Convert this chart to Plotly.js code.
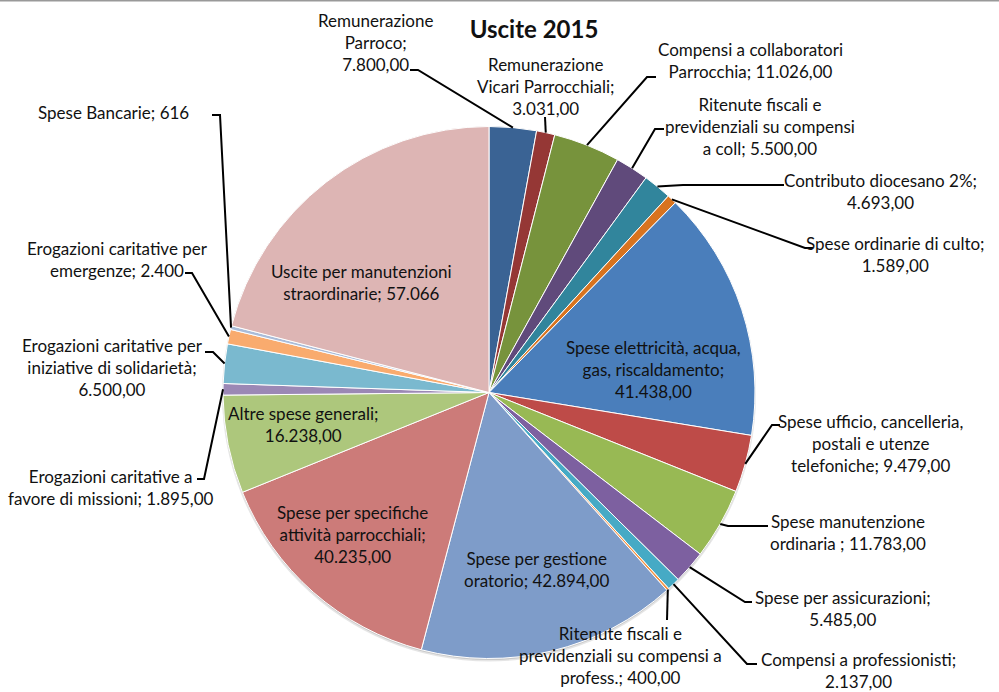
<!DOCTYPE html>
<html>
<head>
<meta charset="utf-8">
<script src="https://cdn.plot.ly/plotly-3.0.1.min.js"></script>
<style>html,body{margin:0;padding:0;background:#fff;}#chart{width:999px;height:692px;}</style>
</head>
<body>
<div id="chart"></div>
<script>
// ---- data ----
const categories = [
  "Remunerazione Parroco",
  "Remunerazione Vicari Parrocchiali",
  "Compensi a collaboratori Parrocchia",
  "Ritenute fiscali e previdenziali su compensi a coll",
  "Contributo diocesano 2%",
  "Spese ordinarie di culto",
  "Spese elettricità, acqua, gas, riscaldamento",
  "Spese ufficio, cancelleria, postali e utenze telefoniche",
  "Spese manutenzione ordinaria ",
  "Spese per assicurazioni",
  "Compensi a professionisti",
  "Ritenute fiscali e previdenziali su compensi a profess.",
  "Spese per gestione oratorio",
  "Spese per specifiche attività parrocchiali",
  "Altre spese generali",
  "Erogazioni caritative a favore di missioni",
  "Erogazioni caritative per iniziative di solidarietà",
  "Erogazioni caritative per emergenze",
  "Spese Bancarie",
  "Uscite per manutenzioni straordinarie"
];
const values = [7800, 3031, 11026, 5500, 4693, 1589, 41438, 9479, 11783, 5485,
                2137, 400, 42894, 40235, 16238, 1895, 6500, 2400, 616, 57066];
const decimals = [2, 2, 2, 2, 2, 2, 2, 2, 2, 2, 2, 2, 2, 2, 2, 2, 2, 0, 0, 0];
const title = "Uscite 2015";

// ---- styling / layout ----
const colors = ["#3A6394", "#953735", "#77933C", "#604A7B", "#31859C", "#D8731F",
  "#4A7EBB", "#BE4B48", "#98B954", "#7D60A0", "#46AAC5", "#F69240",
  "#7E9CC9", "#CC7B79", "#ADC77C", "#9B88B5", "#7AB9CF", "#F9AB6E", "#A9BCD9", "#DDB5B4"];
// words per line for each label
const lineWords = [[1,1,1],[1,2,1],[3,2],[3,3,3],[3,1],[4,1],[3,2,1],[3,3,2],[2,3],[3,1],
                   [3,1],[3,4,2],[3,2],[3,2,1],[3,1],[3,4],[3,3,1],[3,2],[3],[3,2]];
// label block centres (px)
const labelPos = [[375,42],[545,87],[750,60],[760,126],[880,192],[895,254],[653,369],
  [870,444],[848,532],[843,608],[858,670],[620,655],[536,569],[352,534],[303,424],
  [111,487],[112,368],[117,259],[113,113],[361,282]];
// leader lines: [start, elbow] in px, end is computed on pie edge
const leaders = [
  [[410,70],[418,70]], [[545,117],[545,117]], [[656,77],[647,77]], [[664,129],[655,129]],
  [[784,185],[683,185]], [[813,248],[805,248]], null, [[780,425],[772,425]],
  [[768,526],[728,526]], [[752,602],[745,602]], [[757,664],[747,664]], [[667,620],[667,620]],
  null, null, null, [[197,479],[204,479]], [[205,352],[213,352]], [[185,273],[192,273]],
  [[212,115],[220,115]], null
];

const W = 999, H = 692;
const domX = [223/W, 755/W], domY = [1-659/H, 1-126/H];
const FONT = "Lato, 'Open Sans', sans-serif";

function fmt(v, d) {
  const parts = v.toFixed(d).split(".");
  const intp = parts[0].replace(/\B(?=(\d{3})+(?!\d))/g, ".");
  return d > 0 ? intp + "," + parts[1] : intp;
}
function px(x) { return x / W; }
function py(y) { return 1 - y / H; }

const cx = (domX[0] + domX[1]) / 2 * W;
const cy = (1 - (domY[0] + domY[1]) / 2) * H;
const r = Math.min((domX[1]-domX[0]) * W, (domY[1]-domY[0]) * H) / 2;
const total = values.reduce((a, b) => a + b, 0);

const annotations = [];
const shapes = [];
// soft shadow
shapes.push({type:"circle", layer:"below", xref:"paper", yref:"paper",
  x0: px(cx-r-1), x1: px(cx+r+1), y0: py(cy+r+3), y1: py(cy-r+1),
  fillcolor:"rgba(0,0,0,0.10)", line:{width:0}});
shapes.push({type:"circle", layer:"below", xref:"paper", yref:"paper",
  x0: px(cx-r), x1: px(cx+r), y0: py(cy+r+1.5), y1: py(cy-r),
  fillcolor:"rgba(0,0,0,0.12)", line:{width:0}});
// top frame line
shapes.push({type:"line", xref:"paper", yref:"paper", x0:0, x1:1, y0:1, y1:1,
  line:{color:"#999999", width:3}});

let cum = 0;
values.forEach((v, i) => {
  const mid = (cum + v / 2) / total * 2 * Math.PI;
  cum += v;
  const ex = cx + r * Math.sin(mid), ey = cy - r * Math.cos(mid);
  const words = (categories[i] + "; " + fmt(v, decimals[i])).split(" ");
  const lines = [];
  let k = 0;
  lineWords[i].forEach(n => { lines.push(words.slice(k, k + n).join(" ")); k += n; });
  annotations.push({
    xref:"paper", yref:"paper", x: px(labelPos[i][0]), y: py(labelPos[i][1]),
    xanchor:"center", yanchor:"middle", align:"center", showarrow:false,
    text: lines.join("<br>"), font:{family:FONT, size:17, color:"#111"}
  });
  const L = leaders[i];
  if (L) {
    shapes.push({type:"path", xref:"paper", yref:"paper",
      path:`M${px(L[0][0])},${py(L[0][1])} L${px(L[1][0])},${py(L[1][1])} L${px(ex)},${py(ey)}`,
      line:{color:"#000", width:2}});
  }
});

const trace = {
  type:"pie", labels: categories, values: values, sort:false, direction:"clockwise",
  rotation:0, textinfo:"none", hoverinfo:"label+value",
  marker:{colors: colors, line:{color:"#ffffff", width:1}},
  domain:{x: domX, y: domY}, showlegend:false
};

const layout = {
  width: W, height: H, margin:{l:0, r:0, t:0, b:0},
  paper_bgcolor:"#ffffff", plot_bgcolor:"#ffffff",
  title:{text:"<b>" + title + "</b>", x: px(534), y: py(30), xref:"paper", yref:"paper",
    xanchor:"center", yanchor:"middle", font:{family:FONT, size:24, color:"#111"}},
  annotations: annotations, shapes: shapes, showlegend:false
};

Plotly.newPlot("chart", [trace], layout, {displayModeBar:false, staticPlot:true});
</script>
</body>
</html>
